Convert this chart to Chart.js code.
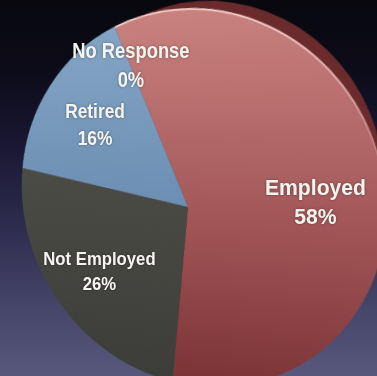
<!DOCTYPE html>
<html>
<head>
<meta charset="utf-8">
<script src="https://cdn.jsdelivr.net/npm/chart.js@4.4.1/dist/chart.umd.min.js"></script>
<style>
  html, body { margin: 0; padding: 0; }
  body {
    width: 377px; height: 376px; overflow: hidden; position: relative;
    background: linear-gradient(180deg, #08080e 0%, #0c0b18 18%, #191732 38%, #2e2c4e 60%, #46466a 82%, #58587c 100%);
  }
  /* the pie is drawn flat and then tilted in 3D */
  #stage {
    position: absolute; left: -34px; top: -15px; width: 444px; height: 444px;
    transform-origin: 222px 222px;
    transform: perspective(720px) rotate3d(0.5, 0.866, 0, -23deg);
    z-index: 1;
  }
  #labels { position: absolute; left: 0; top: 0; z-index: 2; }
  canvas { display: block; }
</style>
</head>
<body>
<div id="stage"><canvas id="chart" width="444" height="444" style="width:444px;height:444px"></canvas></div>
<canvas id="labels" width="377" height="376" style="width:377px;height:376px"></canvas>
<script>
// Employment status of respondents (percent)
const categories = ['Employed', 'Not Employed', 'Retired', 'No Response'];
const percentages = [58, 26, 16, 0];

// slice face shading: top, middle, bottom
const faceColors = [
  ['#c9827f', '#a4585a', '#7a3234'],
  ['#55554d', '#494944', '#3c3c39'],
  ['#86a6c6', '#6b8eb2', '#5679a0'],
  ['#86a6c6', '#6b8eb2', '#5679a0']
];
const rimColor = '#6b2b2d';

const stage = document.getElementById('stage');
const labelCanvas = document.getElementById('labels');

// map a point of the flat chart canvas to page coordinates through the 3D tilt
function projectPoint(px, py) {
  const m = new DOMMatrix(getComputedStyle(stage).transform);
  const ox = stage.offsetWidth / 2, oy = stage.offsetHeight / 2;
  const p = m.transformPoint(new DOMPoint(px - ox, py - oy, 0, 1));
  return { x: p.x / p.w + ox + stage.offsetLeft, y: p.y / p.w + oy + stage.offsetTop };
}

const pieDecor = {
  id: 'pieDecor',
  beforeDatasetsDraw(chart, args, opts) {
    // visible side of the disc along the upper right edge: a crescent of
    // width rimWidth that tapers to nothing rimHalfAngle degrees either side
    const ctx = chart.ctx;
    const a0 = chart.getDatasetMeta(0).data[0];
    const R = a0.outerRadius, w = opts.rimWidth, half = opts.rimHalfAngle * Math.PI / 180;
    const shift = (w * w + 2 * R * w) / (2 * R * (1 - Math.cos(half)) + 2 * w);
    const dir = opts.rimDirection * Math.PI / 180;
    const r2 = R - shift + w;
    ctx.save();
    ctx.beginPath();
    ctx.arc(a0.x + Math.cos(dir) * shift, a0.y + Math.sin(dir) * shift, r2, 0, Math.PI * 2);
    ctx.fillStyle = rimColor;
    ctx.fill();
    ctx.restore();
  },
  afterDatasetsDraw(chart) {
    // glossy highlight along the upper edge of the largest slice
    const ctx = chart.ctx;
    const a0 = chart.getDatasetMeta(0).data[0];
    ctx.save();
    const g = ctx.createLinearGradient(0, a0.y - a0.outerRadius, 0, a0.y - 20);
    g.addColorStop(0, 'rgba(255,232,226,0.85)');
    g.addColorStop(1, 'rgba(255,232,226,0)');
    ctx.strokeStyle = g;
    ctx.lineWidth = 1.6;
    ctx.beginPath();
    ctx.arc(a0.x, a0.y, a0.outerRadius - 0.8, a0.startAngle, a0.endAngle);
    ctx.stroke();
    ctx.restore();
  },
  afterDraw(chart, args, opts) {
    // slice labels stay upright; their size follows the tilt of the disc
    const arcs = chart.getDatasetMeta(0).data;
    const lc = labelCanvas.getContext('2d');
    lc.clearRect(0, 0, labelCanvas.width, labelCanvas.height);
    lc.font = opts.font;
    lc.fillStyle = opts.color;
    lc.textAlign = 'center';
    lc.textBaseline = 'middle';
    lc.shadowColor = 'rgba(0,0,0,0.35)';
    lc.shadowBlur = 3;
    arcs.forEach((arc, i) => {
      const turn = (opts.labelTurn[i] || 0) * Math.PI / 180;
      const mid = (arc.startAngle + arc.endAngle) / 2 + turn;
      const frac = percentages[i] > 0 ? opts.labelRadius : opts.emptyLabelRadius;
      const r = arc.outerRadius * frac;
      const fx = arc.x + Math.cos(mid) * r;
      const fy = arc.y + Math.sin(mid) * r;
      const c = projectPoint(fx, fy);
      const ex = projectPoint(fx + 10, fy);
      const ey = projectPoint(fx, fy + 10);
      const sx = Math.hypot(ex.x - c.x, ex.y - c.y) / 10;
      const sy = Math.hypot(ey.x - c.x, ey.y - c.y) / 10;
      lc.save();
      lc.translate(c.x, c.y);
      lc.scale(sx * opts.textScaleX, sy);
      lc.fillText(categories[i], 0, -opts.lineGap / 2);
      lc.fillText(percentages[i] + '%', 0, opts.lineGap / 2);
      lc.restore();
    });
  }
};

new Chart(document.getElementById('chart'), {
  type: 'pie',
  data: {
    labels: categories,
    datasets: [{
      data: percentages,
      backgroundColor: (c) => {
        const area = c.chart.chartArea;
        const stops = faceColors[c.dataIndex];
        if (!area) return stops[1];
        const grad = c.chart.ctx.createLinearGradient(0, area.top, 0, area.bottom);
        grad.addColorStop(0, stops[0]);
        grad.addColorStop(0.5, stops[1]);
        grad.addColorStop(1, stops[2]);
        return grad;
      },
      borderWidth: 0,
      hoverOffset: 0,
      clip: false
    }]
  },
  options: {
    responsive: false,
    animation: false,
    devicePixelRatio: 1,
    rotation: -21.5,
    layout: { padding: 30 },
    events: [],
    plugins: {
      legend: { display: false },
      tooltip: { enabled: false },
      pieDecor: {
        rimWidth: 11,
        rimHalfAngle: 46,
        rimDirection: -56,
        labelRadius: 0.665,
        emptyLabelRadius: 0.78,
        labelTurn: [3.5, 0, 0, 0],
        font: 'bold 21px "Liberation Sans", Arial, sans-serif',
        color: '#f6f4f0',
        textScaleX: 0.94,
        lineGap: 28
      }
    }
  },
  plugins: [pieDecor]
});
</script>
</body>
</html>
